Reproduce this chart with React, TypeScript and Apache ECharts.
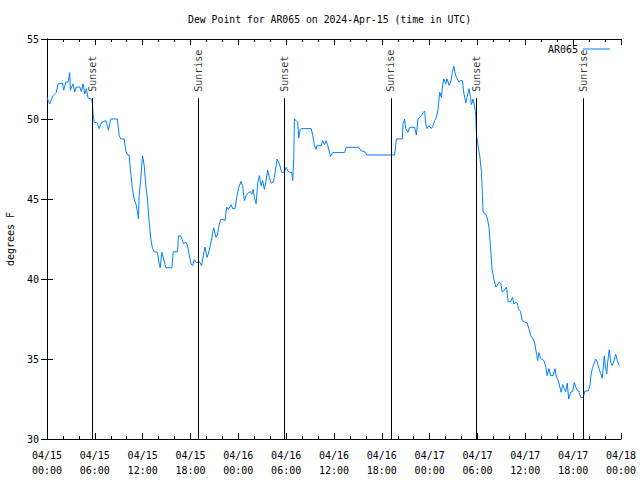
import React, { useEffect, useRef } from "react";
import * as echarts from "echarts";

// hours since 2024-04-15 00:00 UTC
const hours = [
  0, 0.34, 0.75, 1.17, 1.38, 1.92, 2.1, 2.35, 2.64, 2.85, 2.93, 3.27, 3.48, 3.68, 4.11, 4.31, 4.52, 4.74, 4.94, 5.15,
  5.57, 5.69, 5.78, 5.91, 6.32, 6.53, 6.87, 7.38, 7.7, 8.0, 8.83, 9.05, 9.26, 9.68, 9.89, 10.09, 10.3, 10.52, 10.72, 10.93,
  11.15, 11.35, 11.47, 11.56, 11.77, 11.9, 11.98, 12.19, 12.4, 12.6, 12.82, 13.03, 13.23, 13.45, 13.86, 14.07, 14.2, 14.41, 14.58, 14.92,
  15.67, 15.75, 15.83, 16.37, 16.5, 16.8, 17.13, 17.43, 17.63, 17.84, 18.06, 18.26, 18.47, 18.81, 19.1, 19.39, 19.64, 19.82, 20.07, 20.23,
  20.48, 20.65, 20.9, 21.2, 21.4, 21.61, 21.83, 22.33, 22.53, 22.74, 23.08, 23.29, 23.59, 23.79, 24.04, 24.34, 24.54, 24.75, 24.97, 25.26,
  25.51, 25.67, 25.85, 26.01, 26.23, 26.43, 26.64, 26.85, 27.05, 27.27, 27.48, 27.68, 27.9, 28.11, 28.36, 28.52, 28.86, 29.15, 29.44, 29.78,
  30.0, 30.2, 30.41, 30.7, 30.82, 30.95, 31.04, 31.25, 31.45, 31.58, 31.75, 31.88, 33.14, 33.34, 33.55, 33.76, 33.84, 34.39, 34.59, 34.81,
  35.02, 35.22, 35.44, 35.56, 35.85, 37.32, 37.54, 39.12, 39.42, 39.83, 40.12, 43.6, 43.82, 44.57, 44.65, 44.86, 44.99, 45.28, 45.49, 46.12,
  46.33, 46.53, 46.96, 47.16, 47.37, 47.5, 47.66, 47.91, 48.22, 48.42, 48.63, 48.84, 49.05, 49.26, 49.47, 49.6, 49.76, 50.01, 50.18, 50.43,
  50.64, 50.85, 51.02, 51.27, 51.48, 51.69, 51.86, 52.11, 52.27, 52.53, 52.69, 52.94, 53.12, 53.24, 53.44, 53.66, 53.78, 53.87, 53.95, 54.07,
  54.28, 54.5, 54.62, 54.7, 55.04, 55.25, 55.45, 55.63, 55.83, 56.05, 56.3, 56.46, 56.71, 56.92, 57.09, 57.3, 57.64, 57.84, 58.14, 58.39,
  58.56, 58.81, 58.97, 59.19, 59.4, 59.6, 59.94, 60.23, 60.44, 60.69, 60.98, 61.2, 61.41, 61.54, 61.7, 61.91, 62.33, 62.58, 62.74, 62.96,
  63.17, 63.5, 63.71, 63.92, 64.12, 64.34, 64.5, 64.68, 64.88, 65.06, 65.26, 65.43, 65.68, 65.93, 66.14, 66.44, 66.69, 66.94, 67.27, 67.48,
  67.89, 68.11, 68.23, 68.4, 68.61, 68.82, 69.02, 69.24, 69.45, 69.65, 69.78, 69.9, 70.08, 70.21, 70.33, 70.53, 70.71, 70.91, 71.12, 71.34,
  71.54, 71.79,
];

const dewPoint = [
  51.36, 50.94, 51.46, 51.67, 52.19, 52.25, 51.8, 52.3, 52.3, 52.9, 51.8, 52.2, 51.7, 52.0, 52.0, 51.7, 52.2, 51.56, 51.9, 51.3,
  51.25, 51.0, 50.3, 49.8, 49.75, 49.4, 49.8, 49.9, 49.3, 50.0, 50.0, 48.96, 48.75, 48.75, 48.0, 47.75, 47.75, 46.56, 45.6, 45.0,
  44.7, 44.2, 43.75, 45.2, 46.25, 47.2, 47.7, 47.1, 45.8, 45.0, 43.5, 42.5, 41.9, 41.7, 41.67, 40.94, 40.7, 41.67, 41.35, 40.7,
  40.7, 41.25, 41.7, 41.7, 42.7, 42.67, 42.2, 42.3, 42.1, 41.5, 40.94, 40.83, 41.2, 41.0, 41.1, 40.83, 41.56, 42.0, 41.35, 41.56,
  42.1, 42.5, 43.2, 42.6, 42.8, 43.44, 43.75, 43.65, 44.5, 44.33, 44.65, 44.4, 44.4, 45.1, 45.7, 46.1, 45.83, 44.9, 45.2, 45.4,
  45.46, 45.3, 45.6, 45.1, 44.7, 46.0, 46.46, 45.83, 46.15, 45.6, 46.15, 46.8, 46.35, 46.0, 46.04, 46.35, 47.5, 47.2, 46.67, 46.67,
  46.98, 46.77, 46.67, 46.67, 46.15, 47.5, 50.0, 49.9, 49.8, 48.8, 49.33, 49.4, 49.4, 48.96, 48.33, 48.1, 48.33, 48.33, 48.65, 48.4,
  48.65, 48.33, 47.9, 47.67, 47.9, 47.9, 48.23, 48.23, 48.0, 47.96, 47.75, 47.75, 48.75, 48.75, 49.7, 50.0, 49.4, 49.17, 49.48, 49.48,
  49.0, 50.0, 50.2, 50.4, 50.5, 49.7, 49.4, 49.58, 49.4, 49.58, 49.9, 50.1, 50.6, 51.67, 51.35, 52.0, 52.5, 52.2, 52.5, 52.1,
  52.3, 52.9, 53.3, 52.7, 52.5, 52.3, 52.4, 52.4, 51.67, 51.0, 51.35, 51.9, 51.35, 50.9, 51.25, 50.7, 50.2, 49.0, 48.75, 48.33,
  47.7, 46.67, 45.2, 44.17, 44.06, 43.75, 43.2, 42.0, 40.6, 40.0, 39.5, 39.6, 39.8, 39.75, 39.2, 39.27, 39.5, 38.58, 38.58, 38.85,
  38.44, 38.54, 38.5, 38.1, 37.96, 37.4, 37.3, 37.25, 36.9, 36.46, 36.25, 35.94, 35.3, 34.9, 35.4, 35.04, 34.9, 34.48, 33.96, 34.4,
  33.96, 33.96, 34.4, 33.85, 33.65, 33.23, 32.92, 33.4, 33.17, 32.96, 33.5, 32.5, 32.92, 32.96, 33.54, 33.08, 33.0, 32.6, 32.6, 33.0,
  33.0, 33.33, 33.96, 34.4, 34.7, 35.0, 34.83, 34.4, 34.1, 33.8, 34.48, 35.2, 34.4, 34.06, 34.8, 35.58, 34.8, 34.58, 34.9, 35.3,
  34.9, 34.58,
];

const eventHours = [5.69, 19.02, 29.82, 43.14, 53.83, 67.27];
const eventLabels = ["Sunset", "Sunrise", "Sunset", "Sunrise", "Sunset", "Sunrise"];
const eventLineTop = 51.3;
const eventLabelBase = 51.7;

const seriesName = "AR065";
const titleText = "Dew Point for AR065 on 2024-Apr-15 (time in UTC)";
const yName = "degrees F";

const FONT = "DejaVu Sans Mono";
const LINE_COLOR = "#0080ff";

function fmtX(v: number): string {
  const day = 15 + Math.floor(v / 24);
  const hr = Math.round(v % 24);
  const p = (n: number) => (n < 10 ? "0" + n : "" + n);
  return `04/${p(day)}\n${p(hr)}:00`;
}

export default function App() {
  const ref = useRef<HTMLDivElement>(null);
  useEffect(() => {
    if (!ref.current) return;
    const chart = echarts.init(ref.current, undefined, { renderer: "svg" });
    const txt = { fontFamily: FONT, fontSize: 10, color: "#000" };
    const xBase = {
      type: "value" as const,
      min: 0,
      max: 72,
      interval: 6,
      axisLine: { lineStyle: { color: "#000", width: 1 } },
      axisTick: { inside: true, length: 6, lineStyle: { color: "#000" } },
      minorTick: { show: true, splitNumber: 3, length: 3, lineStyle: { color: "#000" } },
      splitLine: { show: false },
    };
    const yBase = {
      type: "value" as const,
      min: 30,
      max: 55,
      interval: 5,
      axisLine: { show: true, lineStyle: { color: "#000", width: 1 } },
      axisTick: { show: true, inside: true, length: 6, lineStyle: { color: "#000" } },
      splitLine: { show: false },
    };
    const lineData = hours.map((h, i) => [h, dewPoint[i]]);
    chart.setOption({
      animation: false,
      backgroundColor: "#fff",
      title: {
        text: titleText,
        left: 188,
        top: 14,
        padding: 0,
        textStyle: { ...txt, fontWeight: "normal", fontSize: 9.8 },
      },
      legend: {
        data: [{ name: seriesName, icon: "rect" }],
        right: 30,
        top: 44,
        padding: 0,
        align: "right",
        itemWidth: 27,
        itemHeight: 1,
        textStyle: { ...txt },
        itemStyle: { color: LINE_COLOR },
        lineStyle: { width: 0 },
      },
      grid: { left: 47, right: 19, top: 39, bottom: 41, outerBoundsMode: "none", containLabel: false },
      xAxis: [
        {
          ...xBase,
          position: "bottom",
          axisLabel: { ...txt, margin: 9, lineHeight: 15, formatter: fmtX },
        },
        { ...xBase, position: "top", axisLabel: { show: false } },
      ],
      yAxis: [
        {
          ...yBase,
          position: "left",
          axisLabel: { ...txt, margin: 8 },
          name: yName,
          nameLocation: "middle",
          nameGap: 32,
          nameRotate: 90,
          nameTextStyle: { ...txt },
        },
        { ...yBase, position: "right", axisLabel: { show: false } },
      ],
      series: [
        {
          name: seriesName,
          type: "line",
          data: lineData,
          showSymbol: false,
          symbol: "none",
          lineStyle: { color: LINE_COLOR, width: 1 },
          itemStyle: { color: LINE_COLOR },
          z: 3,
          markLine: {
            silent: true,
            symbol: ["none", "none"],
            label: { show: false },
            lineStyle: { color: "#000", width: 1, type: "solid" },
            data: eventHours.map((h) => [{ coord: [h, 30] }, { coord: [h, eventLineTop] }]),
          },
        },
        {
          name: "events",
          type: "scatter",
          symbolSize: 0,
          data: eventHours.map((h, i) => ({ value: [h, eventLabelBase], name: eventLabels[i] })),
          label: {
            show: true,
            position: "inside",
            rotate: 90,
            align: "left",
            verticalAlign: "middle",
            formatter: (p: any) => p.name,
            ...txt,
          },
          silent: true,
        },
      ],
    });
    return () => chart.dispose();
  }, []);
  return (
    <div
      ref={ref}
      style={{ position: "fixed", left: 0, top: 0, width: 640, height: 480, background: "#fff" }}
    />
  );
}
